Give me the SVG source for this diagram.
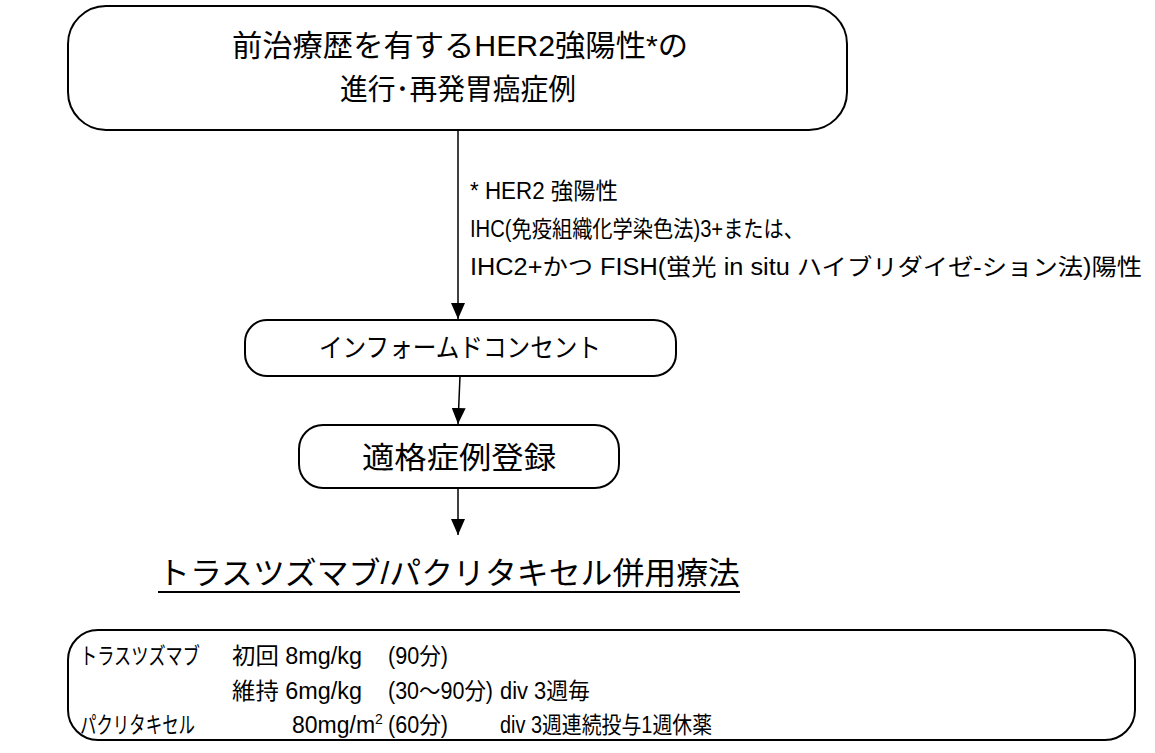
<svg xmlns="http://www.w3.org/2000/svg" width="1155" height="753" viewBox="0 0 1155 753">
<defs>
<marker id="ah" markerWidth="16" markerHeight="14" refX="16" refY="7" orient="auto" markerUnits="userSpaceOnUse">
<path d="M0,0 L16,7 L0,14 z" fill="#000"/>
</marker>
<style>
.box{fill:#fff;stroke:#000;stroke-width:2}
.t{font-family:"Liberation Sans","Noto Sans CJK JP",sans-serif;fill:#000}
.c{stroke:#000;stroke-width:1.5;fill:none}
.r{font-size:23px}
</style>
</defs>
<rect width="1155" height="753" fill="#fff"/>
<g id="connectors">
<line class="c" x1="458" y1="130" x2="458" y2="319" marker-end="url(#ah)"/>
<line class="c" x1="460" y1="376" x2="458" y2="424" marker-end="url(#ah)"/>
<line class="c" x1="458" y1="488" x2="458" y2="535" marker-end="url(#ah)"/>
</g>
<g id="node-start">
<rect class="box" x="68" y="6" width="779" height="124" rx="38" ry="38"/>
<text class="t" x="460" y="56" font-size="30" text-anchor="middle" textLength="456" lengthAdjust="spacingAndGlyphs">前治療歴を有するHER2強陽性*の</text>
<text class="t" x="458" y="100" font-size="29" text-anchor="middle" textLength="236" lengthAdjust="spacingAndGlyphs">進行･再発胃癌症例</text>
</g>
<g id="note">
<text class="t" x="470" y="199" font-size="23" textLength="148" lengthAdjust="spacingAndGlyphs">* HER2 強陽性</text>
<text class="t" x="470" y="237" font-size="23" textLength="334" lengthAdjust="spacingAndGlyphs">IHC(免疫組織化学染色法)3+または、</text>
<text class="t" x="470" y="275" font-size="23" textLength="672" lengthAdjust="spacingAndGlyphs">IHC2+かつ FISH(蛍光 in situ  ハイブリダイゼ-ション法)陽性</text>
</g>
<g id="node-ic">
<rect class="box" x="245" y="320" width="431" height="56" rx="22" ry="22"/>
<text class="t" x="460" y="357" font-size="26" text-anchor="middle" textLength="282" lengthAdjust="spacingAndGlyphs">インフォームドコンセント</text>
</g>
<g id="node-reg">
<rect class="box" x="299" y="425" width="320" height="63" rx="24" ry="24"/>
<text class="t" x="459" y="468" font-size="30" text-anchor="middle" textLength="194" lengthAdjust="spacingAndGlyphs">適格症例登録</text>
</g>
<g id="title">
<text class="t" x="158" y="584" font-size="31" textLength="582" lengthAdjust="spacingAndGlyphs">トラスツズマブ/パクリタキセル併用療法</text>
<line x1="158" y1="592" x2="740" y2="592" stroke="#000" stroke-width="2"/>
</g>
<g id="node-regimen">
<rect class="box" x="68" y="630" width="1067" height="110" rx="30" ry="30"/>
<text class="t r" x="80" y="664" textLength="120" lengthAdjust="spacingAndGlyphs">トラスツズマブ</text>
<text class="t r" x="232" y="664" textLength="130" lengthAdjust="spacingAndGlyphs">初回 8mg/kg</text>
<text class="t r" x="388" y="664" textLength="60" lengthAdjust="spacingAndGlyphs">(90分)</text>
<text class="t r" x="232" y="699" textLength="130" lengthAdjust="spacingAndGlyphs">維持 6mg/kg</text>
<text class="t r" x="388" y="699" textLength="105" lengthAdjust="spacingAndGlyphs">(30～90分)</text>
<text class="t r" x="500" y="699" textLength="90" lengthAdjust="spacingAndGlyphs">div  3週毎</text>
<text class="t r" x="80" y="733" textLength="115" lengthAdjust="spacingAndGlyphs">パクリタキセル</text>
<text class="t r" x="292" y="733">80mg/m<tspan font-size="14" dy="-9">2</tspan></text>
<text class="t r" x="388" y="733" textLength="60" lengthAdjust="spacingAndGlyphs">(60分)</text>
<text class="t r" x="500" y="733" textLength="212" lengthAdjust="spacingAndGlyphs">div  3週連続投与1週休薬</text>
</g>
</svg>
